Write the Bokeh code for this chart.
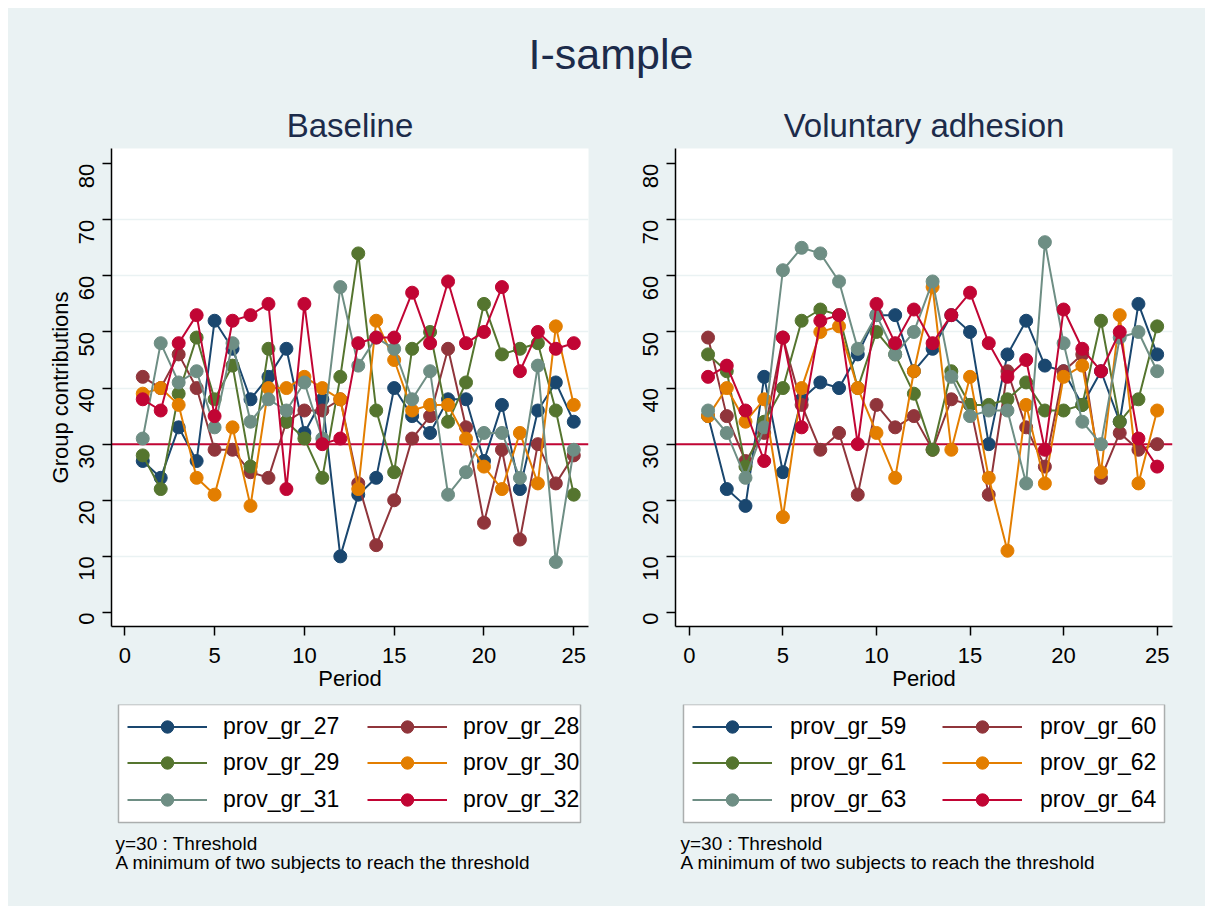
import math
from bokeh.plotting import figure
from bokeh.models import (Legend, LegendItem, Span, Label, Range1d, FixedTicker,
                          BoxAnnotation, ColumnDataSource)
from bokeh.layouts import column, row
from bokeh.embed import file_html
from bokeh.resources import INLINE

# ---------------- data ----------------
periods = list(range(1, 26))

base_names = ["prov_gr_27", "prov_gr_28", "prov_gr_29", "prov_gr_30", "prov_gr_31", "prov_gr_32"]
g27 = [27, 24, 33, 27, 52, 47, 38, 42, 47, 32, 38, 10, 21, 24, 40, 35, 32, 38, 38, 27, 37, 22, 36, 41, 34]
g28 = [42, 40, 46, 40, 29, 29, 25, 24, 34, 36, 36, 38, 23, 12, 20, 31, 35, 47, 33, 16, 29, 13, 30, 23, 28]
g29 = [28, 22, 39, 49, 38, 44, 26, 47, 34, 31, 24, 42, 64, 36, 25, 47, 50, 34, 41, 55, 46, 47, 48, 36, 21]
g30 = [39, 40, 37, 24, 21, 33, 19, 40, 40, 42, 40, 38, 22, 52, 45, 36, 37, 37, 31, 26, 22, 32, 23, 51, 37]
g31 = [31, 48, 41, 43, 33, 48, 34, 38, 36, 41, 31, 58, 44, 49, 47, 38, 43, 21, 25, 32, 32, 24, 44, 9, 29]
g32 = [38, 36, 48, 53, 35, 52, 53, 55, 22, 55, 30, 31, 48, 49, 49, 57, 48, 59, 48, 50, 58, 43, 50, 47, 48]

vol_names = ["prov_gr_59", "prov_gr_60", "prov_gr_61", "prov_gr_62", "prov_gr_63", "prov_gr_64"]
g59 = [35, 22, 19, 42, 25, 38, 41, 40, 46, 53, 53, 43, 47, 53, 50, 30, 46, 52, 44, 43, 37, 43, 34, 55, 46]
g60 = [49, 35, 27, 32, 49, 37, 29, 32, 21, 37, 33, 35, 29, 38, 37, 21, 43, 33, 26, 43, 46, 24, 32, 29, 30]
g61 = [46, 43, 26, 34, 40, 52, 54, 53, 40, 50, 46, 39, 29, 43, 37, 37, 38, 41, 36, 36, 37, 52, 34, 38, 51]
g62 = [35, 40, 34, 38, 17, 40, 50, 51, 40, 32, 24, 43, 58, 29, 42, 24, 11, 37, 23, 42, 44, 25, 53, 23, 36]
g63 = [36, 32, 24, 33, 61, 65, 64, 59, 47, 53, 46, 50, 59, 42, 35, 36, 36, 23, 66, 48, 34, 30, 49, 50, 43]
g64 = [42, 44, 36, 27, 49, 33, 52, 53, 30, 55, 48, 54, 48, 53, 57, 48, 42, 45, 29, 54, 47, 43, 50, 31, 26]

x_ticks = [0, 5, 10, 15, 20, 25]
y_ticks = [0, 10, 20, 30, 40, 50, 60, 70, 80]
grid_ticks = [10, 20, 30, 40, 50, 60, 70]
threshold = 30

main_title = "I-sample"
panel_titles = ["Baseline", "Voluntary adhesion"]
note_lines = ["y=30 : Threshold", "A minimum of two subjects to reach the threshold"]

# ---------------- style ----------------
colors = ["#1a476f", "#90353b", "#55752f", "#e37e00", "#6e8e84", "#c10534"]
BG = "#eaf2f3"
FONT = "Liberation Sans"
TXT = "#000000"
TITLE_C = "#1c2b4a"


def make_panel(series, fw, b_left, b_right, ylabel):
    p = figure(frame_width=fw, frame_height=478,
               x_range=Range1d(-0.74, 25.82), y_range=Range1d(-2.5, 82.7),
               output_backend="svg", toolbar_location=None,
               min_border_left=b_left, min_border_right=b_right,
               min_border_top=0, min_border_bottom=78,
               background_fill_color="white", border_fill_color=BG,
               outline_line_color=None)
    p.xgrid.visible = False
    p.ygrid.ticker = FixedTicker(ticks=grid_ticks)
    p.ygrid.grid_line_color = BG
    p.ygrid.grid_line_width = 1.5

    for ax in (p.xaxis[0], p.yaxis[0]):
        ax.axis_line_color = "black"
        ax.axis_line_width = 1.5
        ax.major_tick_line_color = "black"
        ax.major_tick_line_width = 1.5
        ax.major_tick_out = 9
        ax.major_tick_in = 0
        ax.minor_tick_out = 0
        ax.minor_tick_in = 0
        ax.major_label_text_font = FONT
        ax.major_label_text_font_size = "22px"
        ax.major_label_text_color = TXT
        ax.axis_label_text_font = FONT
        ax.axis_label_text_font_size = "22px"
        ax.axis_label_text_font_style = "normal"
        ax.axis_label_text_color = TXT

    p.xaxis.ticker = FixedTicker(ticks=x_ticks)
    p.yaxis.ticker = FixedTicker(ticks=y_ticks)
    p.yaxis.major_label_orientation = math.pi / 2
    p.xaxis.axis_label = "Period"
    p.xaxis.major_label_standoff = 12
    p.xaxis.axis_label_standoff = 0
    p.yaxis.major_label_standoff = 16
    p.yaxis.axis_label_standoff = -4
    if ylabel:
        p.yaxis.axis_label = ylabel

    p.add_layout(Span(location=threshold, dimension="width", line_color="#c10534",
                      line_width=2, level="underlay"))

    for ys, c in zip(series, colors):
        p.line(periods, ys, line_color=c, line_width=2)
        p.scatter(periods, ys, marker="circle", size=13, fill_color=c, line_color=c)
    return p


def make_legend(names, width, box_left, box_right, glyph_start, standoff, label_w,
                note_x):
    H = 202
    GH = 31
    f = figure(frame_width=width, frame_height=H,
               x_range=Range1d(0, width), y_range=Range1d(H, 0),
               output_backend="svg", toolbar_location=None,
               min_border_left=0, min_border_right=0, min_border_top=0, min_border_bottom=0,
               background_fill_color=BG, border_fill_color=BG, outline_line_color=None)
    f.xaxis.visible = False
    f.yaxis.visible = False
    f.grid.visible = False
    f.add_layout(BoxAnnotation(left=box_left, right=box_right, top=0, bottom=118,
                               fill_color="white", fill_alpha=1,
                               line_color="black", line_width=1.5, level="underlay"))
    # legend key renderers: one undefined (NaN) point each, so nothing shows in the area
    key_src = ColumnDataSource(data=dict(x=[float("nan")], y=[float("nan")]))
    items = []
    for name, c in zip(names, colors):
        ln = f.line("x", "y", source=key_src, line_color=c, line_width=2)
        sc = f.scatter("x", "y", source=key_src, marker="circle", size=13,
                       fill_color=c, line_color=c)
        items.append(LegendItem(label=name, renderers=[ln, sc], index=0))
    row_centers = [22.7, 58.7, 95.3]
    for r, yc in enumerate(row_centers):
        leg = Legend(items=items[2 * r:2 * r + 2], orientation="horizontal",
                     location=(glyph_start, H - yc - GH / 2),
                     border_line_color=None, background_fill_alpha=0,
                     label_text_font=FONT, label_text_font_size="23px",
                     label_text_color=TXT, label_text_baseline="middle",
                     glyph_width=80, glyph_height=GH, label_height=GH,
                     label_width=label_w, label_standoff=standoff,
                     spacing=20, padding=0, margin=0)
        f.add_layout(leg, "center")
    for t, yc in zip(note_lines, [139, 158]):
        f.add_layout(Label(x=note_x, y=yc, text=t, text_align="left",
                           text_baseline="middle", text_font=FONT,
                           text_font_size="19px", text_color=TXT))
    return f


left = make_panel([g27, g28, g29, g30, g31, g32], 477, 103, 32, "Group contributions")
right = make_panel([g59, g60, g61, g62, g63, g64], 497, 55, 33, None)

leg_left = make_legend(base_names, 612, 110, 572, 119, 16, 124, 107)
leg_right = make_legend(vol_names, 585, 63, 544, 72, 18, 132, 60)

# top strip with main title and panel titles
top = figure(frame_width=1197, frame_height=140, x_range=Range1d(0, 1197), y_range=Range1d(140, 0),
             output_backend="svg", toolbar_location=None,
             min_border_left=0, min_border_right=0, min_border_top=0, min_border_bottom=0,
             background_fill_color=BG, border_fill_color=BG, outline_line_color=None)
top.xaxis.visible = False
top.yaxis.visible = False
top.grid.visible = False
top.add_layout(Label(x=602.5, y=45, text=main_title, text_align="center",
                     text_baseline="middle", text_font=FONT,
                     text_font_size="43px", text_color=TITLE_C))
top.add_layout(Label(x=341.5, y=117, text=panel_titles[0], text_align="center",
                     text_baseline="middle", text_font=FONT,
                     text_font_size="33px", text_color=TITLE_C))
top.add_layout(Label(x=915.5, y=117, text=panel_titles[1], text_align="center",
                     text_baseline="middle", text_font=FONT,
                     text_font_size="33px", text_color=TITLE_C))

bgstyle = {"background-color": BG}
layout = column(top,
                row(left, right, styles=bgstyle),
                row(leg_left, leg_right, styles=bgstyle),
                margin=(8, 8, 8, 8), styles=bgstyle)
open("out.html", "w").write(file_html(layout, INLINE))
